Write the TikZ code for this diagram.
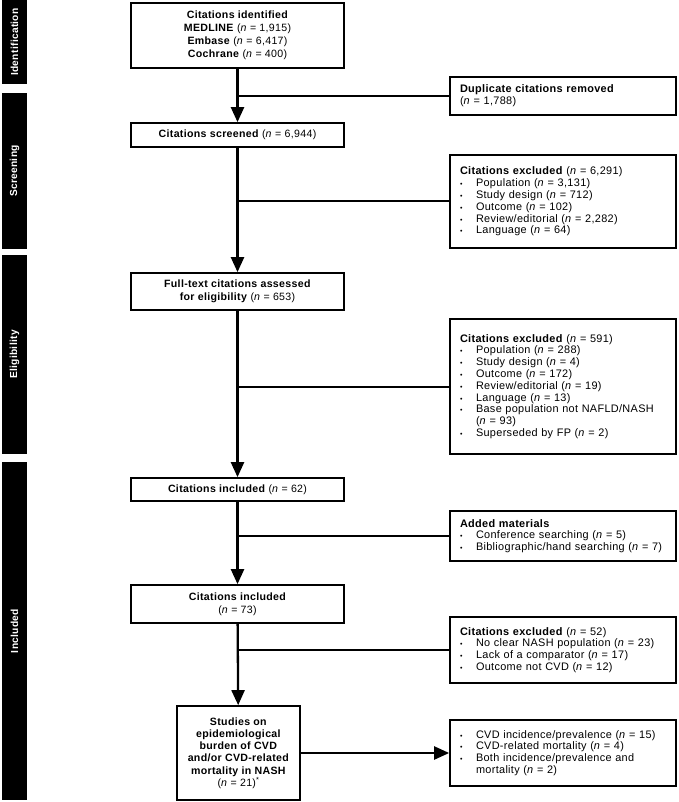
\documentclass[tikz,border=0pt]{standalone}
\usepackage{fontspec}
\setmainfont{Liberation Sans}[LetterSpace=3]
\usetikzlibrary{arrows.meta}
\newcommand\bitem[1]{\makebox[16pt][l]{\fontsize{7}{7}\selectfont\textbullet}#1}
\newcommand\nn{\textit{n}}
\begin{document}
\begin{tikzpicture}[x=1pt,y=-1pt,
  box/.style={draw, line width=1.7pt, minimum width=213pt, inner sep=2pt, align=center, font=\fontsize{10.6}{13}\selectfont},
  sidebox/.style={draw, line width=1.7pt, minimum width=226pt, text width=206pt, inner xsep=10pt, inner ysep=2pt, align=left, font=\fontsize{10.9}{11.8}\selectfont},
  bar/.style={fill=black, text=white, minimum height=25pt, inner sep=0pt, rotate=90, font=\bfseries\fontsize{10.2}{12}\selectfont},
  flow/.style={line width=2.3pt, -{Triangle[length=15pt,width=13pt]}},
  branch/.style={line width=2pt}]
\useasboundingbox (0,0) rectangle (679,802);
% phase bars
\node[bar, minimum width=84pt] (bid) at (14.5,42) {Identification};
\node[bar, minimum width=156pt] (bsc) at (14.5,171) {Screening};
\node[bar, minimum width=199pt] (bel) at (14.5,354.5) {Eligibility};
\node[bar, minimum width=338pt] (bin) at (14.5,631) {Included};
% main column
\node[box, minimum height=65pt] (b1) at (237.5,35.5) {\textbf{Citations identified}\\\textbf{MEDLINE} (\nn{} = 1,915)\\\textbf{Embase} (\nn{} = 6,417)\\\textbf{Cochrane} (\nn{} = 400)};
\node[box, minimum height=24pt] (b2) at (237.5,135) {\textbf{Citations screened} (\nn{} = 6,944)};
\node[box, minimum height=37pt] (b3) at (237.5,291.5) {\textbf{Full-text citations assessed}\\\textbf{for eligibility} (\nn{} = 653)};
\node[box, minimum height=23pt] (b4) at (237.5,489.5) {\textbf{Citations included} (\nn{} = 62)};
\node[box, minimum height=38pt] (b5) at (237.5,604) {\textbf{Citations included}\\(\nn{} = 73)};
\node[box, minimum width=123pt, minimum height=94pt, font=\fontsize{10.6}{12.3}\selectfont] (b6) at (238.5,753) {\textbf{Studies on}\\\textbf{epidemiological}\\\textbf{burden of CVD}\\\textbf{and/or CVD-related}\\\textbf{mortality in NASH}\\(\nn{} = 21)\textsuperscript{*}};
% side column
\node[sidebox, minimum height=38pt] (s1) at (563,96) {\textbf{Duplicate citations removed}\\(\nn{} = 1,788)};
\node[sidebox, minimum height=93pt] (s2) at (563,201.5) {\textbf{Citations excluded} (\nn{} = 6,291)\\\bitem{Population (\nn{} = 3,131)}\\\bitem{Study design (\nn{} = 712)}\\\bitem{Outcome (\nn{} = 102)}\\\bitem{Review/editorial (\nn{} = 2,282)}\\\bitem{Language (\nn{} = 64)}};
\node[sidebox, minimum height=135pt] (s3) at (563,386.5) {\textbf{Citations excluded} (\nn{} = 591)\\\bitem{Population (\nn{} = 288)}\\\bitem{Study design (\nn{} = 4)}\\\bitem{Outcome (\nn{} = 172)}\\\bitem{Review/editorial (\nn{} = 19)}\\\bitem{Language (\nn{} = 13)}\\\bitem{Base population not NAFLD/NASH}\\\hspace*{16pt}(\nn{} = 93)\\\bitem{Superseded by FP (\nn{} = 2)}};
\node[sidebox, minimum height=50pt] (s4) at (563,536) {\textbf{Added materials}\\\bitem{Conference searching (\nn{} = 5)}\\\bitem{Bibliographic/hand searching (\nn{} = 7)}};
\node[sidebox, minimum height=66pt] (s5) at (563,650) {\textbf{Citations excluded} (\nn{} = 52)\\\bitem{No clear NASH population (\nn{} = 23)}\\\bitem{Lack of a comparator (\nn{} = 17)}\\\bitem{Outcome not CVD (\nn{} = 12)}};
\node[sidebox, minimum height=66pt] (s6) at (563,753) {\bitem{CVD incidence/prevalence (\nn{} = 15)}\\\bitem{CVD-related mortality (\nn{} = 4)}\\\bitem{Both incidence/prevalence and}\\\hspace*{16pt}mortality (\nn{} = 2)};
% flow arrows
\draw[flow] (b1) -- (b2);
\draw[flow] (b2) -- (b3);
\draw[flow] (b3) -- (b4);
\draw[flow] (b4) -- (b5);
\draw[flow] (b5) -- (b6);
\draw[flow] (b6) -- (s6);
% branches
\draw[branch] (b1.south |- s1.west) -- (s1.west);
\draw[branch] (b2.south |- s2.west) -- (s2.west);
\draw[branch] (b3.south |- s3.west) -- (s3.west);
\draw[branch] (b4.south |- s4.west) -- (s4.west);
\draw[branch] (b5.south |- s5.west) -- (s5.west);
\end{tikzpicture}
\end{document}
